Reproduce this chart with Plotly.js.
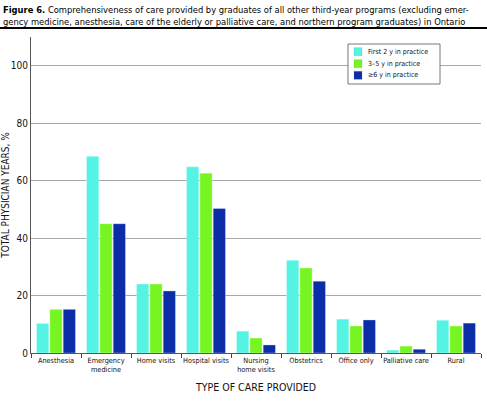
<!DOCTYPE html>
<html><head><meta charset="utf-8">
<script src="https://cdn.plot.ly/plotly-3.0.1.min.js"></script>
<style>html,body{margin:0;padding:0;background:#fff}#chart{width:487px;height:404px}</style>
</head><body><div id="chart"></div>
<script>
const categories = ["Anesthesia","Emergency<br>medicine","Home visits","Hospital visits","Nursing<br>home visits","Obstetrics","Office only","Palliative care","Rural"];
const seriesNames = ["First 2 y in practice","3–5 y in practice","≥6 y in practice"];
const first2 = [10.3, 68.5, 24, 64.8, 7.6, 32.3, 11.8, 1, 11.4];
const y3to5 = [15.2, 45, 24, 62.6, 5.2, 29.6, 9.4, 2.4, 9.4];
const y6plus = [15.2, 45, 21.6, 50.3, 2.8, 25, 11.5, 1.3, 10.4];
const colors = ["#55F3E4", "#77F522", "#0B2DA8"];
const yTicks = [0, 20, 40, 60, 80, 100];

const FONT = "DejaVu Sans Condensed, Liberation Sans Narrow, sans-serif";
const vals = [first2, y3to5, y6plus];
const traces = vals.map((v, i) => ({
  type: "bar", x: categories, y: v, name: seriesNames[i],
  marker: {color: colors[i], line: {color: "rgba(255,255,255,0.6)", width: 0.5}}
}));

// custom compact legend (paper coords)
const legRows = [0.9535, 0.9155, 0.8788];
const shapes = [
  {type: "line", xref: "paper", yref: "paper", x0: -0.07, x1: 1.02, y0: 1.0285, y1: 1.0285,
    line: {color: "#000", width: 2}},
  {type: "rect", xref: "paper", yref: "paper", x0: 0.7044, x1: 0.9089, y0: 0.8513, y1: 0.9778,
    fillcolor: "#fff", line: {color: "#777", width: 1}, layer: "above"}
];
const annotations = [{
  xref: "paper", yref: "paper", x: -0.066, y: 1.112, xanchor: "left", yanchor: "top",
  align: "left", showarrow: false, font: {size: 9.3, family: FONT, color: "#000"},
  text: "<b>Figure 6.</b> Comprehensiveness of care provided by graduates of all other third-year programs (excluding emer-<br>gency medicine, anesthesia, care of the elderly or palliative care, and northern program graduates) in Ontario"
}];
seriesNames.forEach((n, i) => {
  shapes.push({type: "rect", xref: "paper", yref: "paper", x0: 0.7178, x1: 0.7356,
    y0: legRows[i] - 0.0127, y1: legRows[i] + 0.0127, fillcolor: colors[i],
    line: {color: "rgba(120,120,120,0.4)", width: 0.5}, layer: "above"});
  annotations.push({xref: "paper", yref: "paper", x: 0.7444, y: legRows[i],
    xanchor: "left", yanchor: "middle", showarrow: false, text: n,
    font: {size: 7, family: FONT, color: "#111"}});
});

const layout = {
  width: 487, height: 404,
  margin: {l: 31, r: 6, t: 37, b: 51},
  paper_bgcolor: "#fff", plot_bgcolor: "#fff",
  font: {family: FONT, color: "#111"},
  barmode: "group", bargap: 0.2, bargroupgap: 0.08,
  showlegend: false,
  xaxis: {type: "category", tickson: "boundaries", ticks: "outside", ticklen: 4,
    tickcolor: "#444", showline: true, linecolor: "#555", linewidth: 1, tickangle: 0,
    tickfont: {size: 7.3, family: FONT}, showgrid: false, range: [-0.5, 8.5],
    title: {text: "TYPE OF CARE PROVIDED", font: {size: 10.5, family: FONT}, standoff: 10}},
  yaxis: {range: [0, 110], tickvals: yTicks, ticktext: yTicks.map(String),
    showline: true, linecolor: "#555", linewidth: 1, ticks: "",
    gridcolor: "#a8a8a8", gridwidth: 1, zeroline: false,
    tickfont: {size: 10, family: FONT},
    title: {text: "TOTAL PHYSICIAN YEARS, %", font: {size: 10, family: FONT}, standoff: 4}},
  annotations: annotations,
  shapes: shapes
};
Plotly.newPlot("chart", traces, layout, {displayModeBar: false, staticPlot: true});
</script></body></html>
